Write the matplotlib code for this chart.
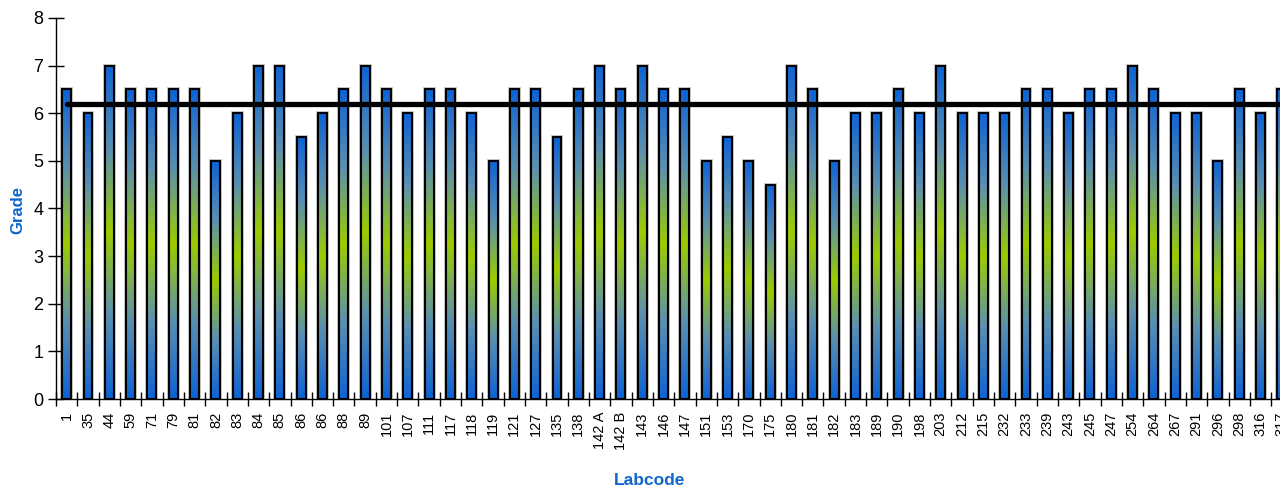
import numpy as np
import matplotlib
matplotlib.use("Agg")
import matplotlib.pyplot as plt
from matplotlib.colors import LinearSegmentedColormap

labcodes = ["1", "35", "44", "59", "71", "79", "81", "82", "83", "84",
            "85", "86", "86", "88", "89", "101", "107", "111", "117", "118",
            "119", "121", "127", "135", "138", "142 A", "142 B", "143", "146", "147",
            "151", "153", "170", "175", "180", "181", "182", "183", "189", "190",
            "198", "203", "212", "215", "232", "233", "239", "243", "245", "247",
            "254", "264", "267", "291", "296", "298", "316", "317"]
grades = [6.5, 6, 7, 6.5, 6.5, 6.5, 6.5, 5, 6, 7,
          7, 5.5, 6, 6.5, 7, 6.5, 6, 6.5, 6.5, 6,
          5, 6.5, 6.5, 5.5, 6.5, 7, 6.5, 7, 6.5, 6.5,
          5, 5.5, 5, 4.5, 7, 6.5, 5, 6, 6, 6.5,
          6, 7, 6, 6, 6, 6.5, 6.5, 6, 6.5, 6.5,
          7, 6.5, 6, 6, 5, 6.5, 6, 6.5]
mean_grade = 6.2

plt.rcParams['font.family'] = ['Liberation Sans', 'DejaVu Sans']

fig = plt.figure(figsize=(12.8, 4.86), dpi=100)
W, H = 1280, 486
left_px, right_px, top_px, bottom_px = 56, 1292.5, 18, 399
ax = fig.add_axes([left_px / W, 1 - bottom_px / H,
                   (right_px - left_px) / W, (bottom_px - top_px) / H])

n = len(labcodes)
x = np.arange(n)
bw = 0.42

cmap = LinearSegmentedColormap.from_list("g", ["#0E63D4", "#5A8FB0", "#9CCC00", "#5A8FB0", "#0E63D4"])
grad = np.linspace(0, 1, 256).reshape(-1, 1)

bars = ax.bar(x, grades, width=bw, facecolor="none", edgecolor="black",
              linewidth=1.5, zorder=3)
for rect in bars:
    bx, by = rect.get_x(), rect.get_y()
    w, h = rect.get_width(), rect.get_height()
    shadow = plt.Rectangle((bx, by), w, h, facecolor="none", edgecolor="#c8c8c8",
                           linewidth=2.8, zorder=1.5)
    ax.add_patch(shadow)
    ax.imshow(grad, extent=[bx, bx + w, by, by + h], aspect="auto",
              cmap=cmap, origin="lower", zorder=2, interpolation="bilinear")

ax.plot([0, n + 2], [mean_grade, mean_grade], color="black", lw=3.8,
        solid_capstyle="round", zorder=4)

ax.set_xlim(-0.5, n - 0.5)
ax.set_ylim(0, 8)
ax.set_yticks(range(0, 9))
ax.tick_params(axis="y", direction="inout", length=12, width=1, labelsize=13, pad=3)

ax.set_xticks(x)
ax.set_xticklabels(labcodes, rotation=90, fontsize=10.5)
ax.tick_params(axis="x", which="major", length=0, pad=9)
ax.set_xticks(np.arange(-0.5, n, 1), minor=True)
ax.tick_params(axis="x", which="minor", direction="inout", length=10, width=1)

for s in ["top", "right"]:
    ax.spines[s].set_visible(False)
ax.spines["left"].set_linewidth(1)
ax.spines["bottom"].set_linewidth(1)

fig.text(18 / W, 1 - 210 / H, "Grade", rotation=90, color="#0F66CC",
         fontsize=12, fontweight="bold", ha="center", va="center")
fig.text(650 / W, 1 - 480 / H, "Labcode", color="#0F66CC",
         fontsize=12.5, fontweight="bold", ha="center", va="center")

fig.savefig("out.png", dpi=100)
